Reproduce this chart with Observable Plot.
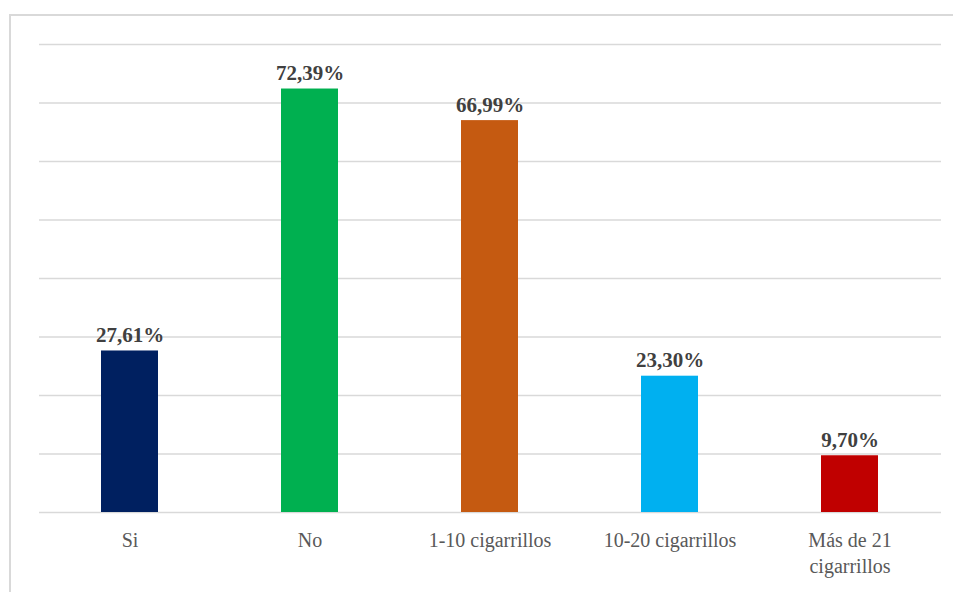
<!DOCTYPE html>
<html>
<head>
<meta charset="utf-8">
<script src="https://cdn.jsdelivr.net/npm/d3@7"></script>
<script src="https://cdn.jsdelivr.net/npm/@observablehq/plot@0.6"></script>
<style>
  html, body { margin: 0; padding: 0; background: #fff; overflow: hidden; font-family: "Liberation Serif", serif; }
  #wrap { position: relative; width: 953px; height: 592px; }
  #frame {
    position: absolute; left: 9px; top: 14px; width: 1000px; height: 700px;
    border-left: 2px solid #d9d9d9; border-top: 2px solid #d9d9d9; box-sizing: border-box;
  }
  #chart { position: absolute; left: 0; top: 0; }
</style>
</head>
<body>
<div id="wrap">
  <div id="frame"></div>
  <div id="chart"></div>
</div>
<script>
// Categories, percentages and bar colours
const categories = ["Si", "No", "1-10 cigarrillos", "10-20 cigarrillos", "Más de 21 cigarrillos"];
const tickLabels = ["Si", "No", "1-10 cigarrillos", "10-20 cigarrillos", "Más de 21\ncigarrillos"];
const values = [27.61, 72.39, 66.99, 23.30, 9.70];
const colors = ["#002060", "#00B050", "#C55A11", "#00B0F0", "#C00000"];
const gridTicks = [0, 10, 20, 30, 40, 50, 60, 70, 80];

const serif = "Times New Roman";
const data = categories.map((c, i) => ({cat: c, value: values[i]}));
const fmt = v => v.toFixed(2).replace(".", ",") + "%";
const labelOf = new Map(categories.map((c, i) => [c, tickLabels[i]]));

const chart = Plot.plot({
  width: 953,
  height: 592,
  marginLeft: 39,
  marginRight: 12,
  marginTop: 44,
  marginBottom: 80,
  style: {fontFamily: serif, background: "transparent"},
  x: {domain: categories, paddingInner: 0.683, paddingOuter: 0.3415, axis: null},
  y: {domain: [0, 80], axis: null},
  color: {domain: categories, range: colors},
  marks: [
    Plot.ruleY(gridTicks, {stroke: "#d9d9d9", strokeWidth: 1.5}),
    Plot.barY(data, {x: "cat", y: "value", fill: "cat"}),
    Plot.text(data, {
      x: "cat", y: "value", text: d => fmt(d.value),
      lineAnchor: "bottom", dy: -9,
      fontFamily: serif, fontSize: 21, fontWeight: "bold", fill: "#404040"
    }),
    Plot.axisX({
      label: null, tickSize: 0, tickPadding: 16, fontSize: 20, fill: "#595959",
      fontFamily: serif, tickFormat: c => labelOf.get(c), lineHeight: 1.3
    })
  ]
});
// serif face on every label
d3.select(chart).selectAll("text, g").style("font-family", `"${serif}", "Liberation Serif", serif`, "important");
document.getElementById("chart").appendChild(chart);
</script>
</body>
</html>
